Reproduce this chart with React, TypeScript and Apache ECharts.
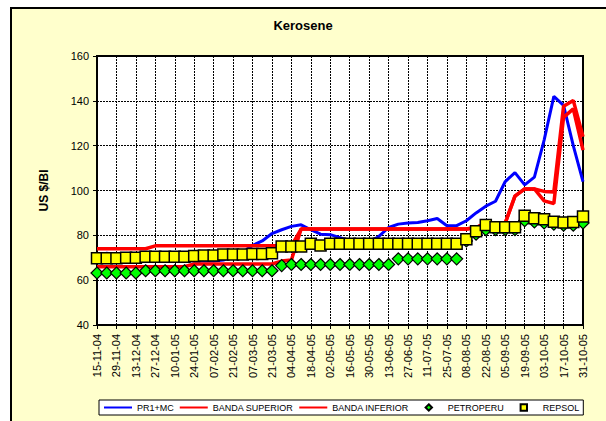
import React, { useEffect, useRef } from "react";
import * as echarts from "echarts";

const categories: string[] = [
  "15-11-04", "22-11-04", "29-11-04", "06-12-04", "13-12-04", "20-12-04", "27-12-04",
  "03-01-05", "10-01-05", "17-01-05", "24-01-05", "31-01-05", "07-02-05", "14-02-05",
  "21-02-05", "28-02-05", "07-03-05", "14-03-05", "21-03-05", "28-03-05", "04-04-05",
  "11-04-05", "18-04-05", "25-04-05", "02-05-05", "09-05-05", "16-05-05", "23-05-05",
  "30-05-05", "06-06-05", "13-06-05", "20-06-05", "27-06-05", "04-07-05", "11-07-05",
  "18-07-05", "25-07-05", "01-08-05", "08-08-05", "15-08-05", "22-08-05", "29-08-05",
  "05-09-05", "12-09-05", "19-09-05", "26-09-05", "03-10-05", "10-10-05", "17-10-05",
  "24-10-05", "31-10-05",
];

const pr1mc: number[] = [
  70.5, 72, 71.5, 68, 68.5, 69, 68.5, 68.5, 69.5, 69, 68.5, 68.5, 68.5, 69, 70.5, 72.5,
  75.5, 77.5, 80.8, 82.5, 84, 84.7, 82.5, 80.5, 80.3, 79, 77.5, 76.8, 77, 79.5, 83.5,
  85, 85.5, 85.7, 86.5, 87.5, 84.3, 84.3, 86.5, 90, 93, 95.2, 104, 108, 102.5, 106,
  122.5, 142, 138, 120, 104,
];

const bandaSuperior: number[] = [
  74, 74, 74, 74, 74, 74, 75.3, 75.3, 75.3, 75.3, 75.3, 75.3, 75.3, 75.3,
  75.3, 75.3, 75.3, 75.3, 75.3, 75.3, 75.3, 82.8, 82.8, 82.8, 82.8, 82.8, 82.8, 82.8,
  82.8, 82.8, 82.8, 82.8, 82.8, 82.8, 82.8, 82.8, 82.8, 82.8, 82.8, 83.5, 85.5, 85.5,
  85.5, 97.5, 100.7, 100.7, 99.6, 99.3, 137.6, 140.2, 124,
];

const bandaInferior: number[] = [
  66, 66, 66, 66, 66, 66, 66, 66, 66, 66, 67.2, 67.2, 67.2, 67.2, 67.2, 67.2, 67.2, 67.2,
  67.2, 68.5, 69, 82.8, 82.8, 82.8, 82.8, 82.8, 82.8, 82.8, 82.8, 82.8, 82.8, 82.8, 82.8,
  82.8, 82.8, 82.8, 82.8, 82.8, 82.8, 83.5, 85.5, 85.5, 85.5, 97.5, 100.7, 100.7, 95.4,
  94.2, 132.6, 136.4, 118,
];

const petroperu: number[] = [
  63.2, 63.2, 63.2, 63.2, 63.2, 64.2, 64.2, 64.2, 64.2, 64.2, 64.2, 64.2, 64.2, 64.2,
  64.2, 64.2, 64.2, 64.2, 64.2, 66.5, 67, 67, 67, 67, 67, 67, 67, 67, 67, 67, 67, 69.5,
  69.5, 69.5, 69.5, 69.5, 69.5, 69.5, 77.5, 80.5, 82.5, 82.5, 82.5, 82.5, 86.5, 86, 85.5,
  85, 84.5, 84.5, 85.5,
];

const repsol: number[] = [
  69.8, 69.8, 69.8, 70, 70, 70.5, 70.5, 70.5, 70.5, 70.5, 70.8, 71, 71, 71.5, 71.5, 71.5,
  71.7, 71.7, 72, 75, 75, 75, 76.2, 75.5, 76.2, 76.2, 76.2, 76.2, 76.2, 76.2, 76.2, 76.2,
  76.2, 76.2, 76.2, 76.2, 76.2, 76.2, 78.3, 81.8, 84.6, 83.6, 83.6, 83.6, 88.7, 87.6,
  87.2, 86.1, 85.7, 85.9, 88.4,
];

const yTicks = { min: 40, max: 160, interval: 20 };

const FONT = 'Arial, "Liberation Sans", sans-serif';

export default function App() {
  const ref = useRef<HTMLDivElement>(null);

  useEffect(() => {
    if (!ref.current) return;
    const chart = echarts.init(ref.current, undefined, { renderer: "svg" });
    const gridLine = { show: true, lineStyle: { color: "#000", width: 1, type: [2, 1] } };
    chart.setOption({
      animation: false,
      backgroundColor: "#ffffff",
      textStyle: { fontFamily: FONT },
      graphic: [
        {
          type: "rect",
          z: -10,
          silent: true,
          shape: { x: 11, y: 8, width: 610, height: 430 },
          style: { fill: "#FFFFCC", stroke: "#000", lineWidth: 2 },
        },
      ],
      title: {
        text: "Kerosene",
        left: "center",
        top: 14,
        textStyle: { fontFamily: FONT, fontSize: 13, fontWeight: "bold", color: "#000" },
      },
      grid: {
        left: 97,
        right: 23,
        top: 56,
        bottom: 96,
        show: true,
        backgroundColor: "#ffffff",
        borderColor: "#000",
        borderWidth: 2,
      },
      legend: {
        left: 99,
        top: 400,
        padding: [3, 4],
        itemGap: 5,
        itemWidth: 28,
        itemHeight: 8,
        backgroundColor: "#ffffff",
        borderColor: "#000",
        borderWidth: 1,
        borderRadius: 0,
        textStyle: { fontFamily: FONT, fontSize: 9, color: "#000" },
        data: [
          { name: "PR1+MC", itemStyle: { opacity: 0 } },
          { name: "BANDA SUPERIOR", itemStyle: { opacity: 0 } },
          { name: "BANDA INFERIOR", itemStyle: { opacity: 0 } },
          { name: "PETROPERU" },
          { name: "REPSOL" },
        ],
      },
      xAxis: {
        type: "category",
        data: categories,
        boundaryGap: false,
        axisLine: { lineStyle: { color: "#000", width: 2 } },
        axisTick: { show: true, interval: 1, length: 4, lineStyle: { color: "#000" } },
        axisLabel: {
          interval: 1,
          rotate: 90,
          margin: 9,
          fontFamily: FONT,
          fontSize: 11,
          color: "#000",
        },
        splitLine: { ...gridLine, interval: 1 },
      },
      yAxis: {
        type: "value",
        min: yTicks.min,
        max: yTicks.max,
        interval: yTicks.interval,
        name: "US $/Bl",
        nameLocation: "middle",
        nameRotate: 90,
        nameGap: 47,
        nameTextStyle: { fontFamily: FONT, fontSize: 12, fontWeight: "bold", color: "#000" },
        axisLine: { show: true, lineStyle: { color: "#000", width: 2 } },
        axisTick: { show: true, length: 4, lineStyle: { color: "#000" } },
        axisLabel: { margin: 8, fontFamily: FONT, fontSize: 11, color: "#000" },
        splitLine: gridLine,
      },
      series: [
        {
          name: "PR1+MC",
          type: "line",
          data: pr1mc,
          symbol: "none",
          itemStyle: { color: "#0000FF" },
          lineStyle: { color: "#0000FF", width: 3 },
        },
        {
          name: "BANDA SUPERIOR",
          type: "line",
          data: bandaSuperior,
          symbol: "none",
          itemStyle: { color: "#FF0000" },
          lineStyle: { color: "#FF0000", width: 3.5 },
        },
        {
          name: "BANDA INFERIOR",
          type: "line",
          data: bandaInferior,
          symbol: "none",
          itemStyle: { color: "#FF0000" },
          lineStyle: { color: "#FF0000", width: 3.5 },
        },
        {
          name: "PETROPERU",
          type: "line",
          data: petroperu,
          symbol: "diamond",
          symbolSize: 12,
          showAllSymbol: true,
          itemStyle: { color: "#00FF00", borderColor: "#000", borderWidth: 1.2 },
          lineStyle: { opacity: 0 },
        },
        {
          name: "REPSOL",
          type: "line",
          data: repsol,
          symbol: "rect",
          symbolSize: 11,
          showAllSymbol: true,
          itemStyle: { color: "#FFFF00", borderColor: "#000", borderWidth: 1.5 },
          lineStyle: { opacity: 0 },
        },
      ],
    });
    return () => chart.dispose();
  }, []);

  return (
    <div
      ref={ref}
      style={{ position: "absolute", left: 0, top: 0, width: 606, height: 421 }}
    />
  );
}
